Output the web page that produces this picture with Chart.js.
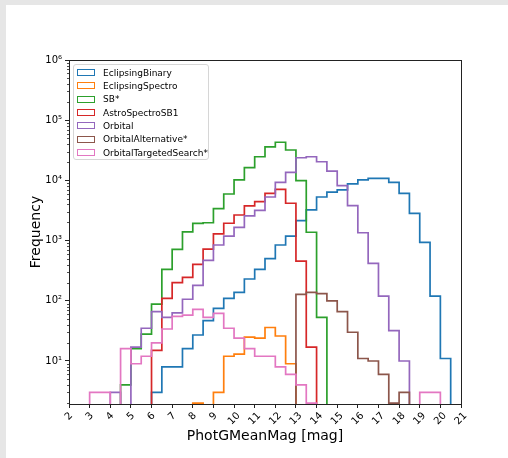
<!DOCTYPE html>
<html lang="en">
<head>
    <meta charset="UTF-8">
    <title>PhotGMeanMag histogram</title>
    <style>
        html, body { margin: 0; padding: 0; }
        body { width: 508px; height: 458px; background: #e6e6e6; position: relative; overflow: hidden; font-family: "DejaVu Sans", sans-serif; }
        #panel { position: absolute; left: 6px; top: 5px; right: 0; bottom: 0; background: #fff; }
        #myChart { position: absolute; left: 0; top: 0; }
        #legend { position: absolute; box-sizing: border-box; border: 1px solid #d6d6d6; border-radius: 3px; background: rgba(255,255,255,0.8); padding: 1px 0 0 3px; font-size: 9px; color: #000; }
        #legend .row { height: 13.33px; display: flex; align-items: center; white-space: nowrap; }
        #legend .box { box-sizing: border-box; width: 18px; height: 7px; border: 1.5px solid; margin-right: 8px; }
    </style>
</head>
<body>
    <div id="panel"></div>
    <canvas id="myChart" width="508" height="458"></canvas>
    <div id="legend"></div>
    <script src="https://cdn.jsdelivr.net/npm/chart.js"></script>
    <script>
        // histogram counts per 0.5 mag bin, each list starts at binStart[i]
        const binWidth = 0.5
        const seriesNames = ['EclipsingBinary', 'EclipsingSpectro', 'SB*', 'AstroSpectroSB1', 'Orbital', 'OrbitalAlternative*', 'OrbitalTargetedSearch*']
        const seriesColors = ['#1f77b4', '#ff7f0e', '#2ca02c', '#d62728', '#9467bd', '#8c564b', '#e377c2']
        const binStart = [6.0, 8.0, 4.5, 6.0, 4.0, 13.0, 3.0]

        const eclipsingBinary = [3, 8, 8, 16, 27, 47, 75, 110, 138, 230, 333, 500, 845, 1190, 2140, 3240, 5300, 6400, 6940, 8740, 10200, 10800, 10800, 9300, 6100, 2840, 935, 120, 11]
        const eclipsingSpectro = [2, 0, 3, 12, 13, 25, 24, 36, 26, 9]
        const sbStar = [4, 16, 28, 88, 333, 716, 1400, 1930, 1980, 3390, 5940, 10200, 16300, 24700, 36100, 43000, 32000, 9900, 1375, 53]
        const astroSpectroSB1 = [15, 110, 200, 245, 403, 720, 1290, 1940, 2660, 3760, 4430, 6110, 7110, 4170, 457, 17]
        const orbital = [3, 0, 17, 35, 66, 53, 63, 106, 180, 470, 845, 1190, 1660, 2570, 3170, 5300, 9300, 13600, 23800, 24700, 20400, 14300, 8170, 3800, 1350, 418, 120, 32, 10]
        const orbitalAlternative = [128, 138, 132, 100, 66, 30, 11, 10, 6, 2, 3]
        const orbitalTargetedSearch = [3, 3, 0, 16, 9, 12, 20, 34, 55, 58, 72, 53, 62, 35, 24, 16, 12, 12, 8, 6, 4, 2, 0, 0, 0, 0, 0, 0, 0, 0, 0, 0, 3, 3]

        const seriesCounts = [eclipsingBinary, eclipsingSpectro, sbStar, astroSpectroSB1, orbital, orbitalAlternative, orbitalTargetedSearch]

        const xTicks = [2, 3, 4, 5, 6, 7, 8, 9, 10, 11, 12, 13, 14, 15, 16, 17, 18, 19, 20, 21]
        const yTicks = [10, 100, 1000, 10000, 100000, 1000000]

        const FONT = '"DejaVu Sans", sans-serif'
        const SUP = ['⁰', '¹', '²', '³', '⁴', '⁵', '⁶', '⁷', '⁸', '⁹']
        const BELOW = 0.5   // empty bins sit under the log axis, so they get clipped

        // step outline: up from the floor, flat across each bin, back down at the end
        function stepPoints(start, counts) {
            const pts = [{x: start, y: BELOW}]
            counts.forEach((c, i) => pts.push({x: start + i * binWidth, y: c > 0 ? c : BELOW}))
            pts.push({x: start + counts.length * binWidth, y: BELOW})
            return pts
        }

        const datasets = seriesNames.map((name, i) => ({
            label: name,
            data: stepPoints(binStart[i], seriesCounts[i]),
            borderColor: seriesColors[i],
            backgroundColor: seriesColors[i],
            borderWidth: 1.7,
            borderJoinStyle: 'miter',
            stepped: 'before',
            pointRadius: 0,
            fill: false,
            order: seriesNames.length - i
        }))

        const frame = {
            id: 'frame',
            afterDatasetsDraw(chart) {
                const {ctx, chartArea: a} = chart
                ctx.save()
                ctx.strokeStyle = '#222'
                ctx.lineWidth = 1
                ctx.strokeRect(Math.round(a.left) + 0.5, Math.round(a.top) + 0.5, Math.round(a.right - a.left), Math.round(a.bottom - a.top))
                ctx.restore()
            },
            afterDraw(chart) {
                const {ctx, chartArea: a} = chart
                const ys = chart.scales.y, xs = chart.scales.x
                ctx.save()
                // log minor ticks
                ctx.strokeStyle = '#222'
                ctx.lineWidth = 0.8
                ctx.beginPath()
                for (let k = 0; k < 6; k++) {
                    for (let m = 2; m < 10; m++) {
                        const v = m * Math.pow(10, k)
                        if (v < ys.min || v > ys.max) continue
                        const py = Math.round(ys.getPixelForValue(v)) + 0.5
                        ctx.moveTo(a.left - 2, py)
                        ctx.lineTo(a.left, py)
                    }
                }
                ctx.stroke()
                // rotated x tick labels, centred under each tick
                ctx.font = '10px ' + FONT
                ctx.fillStyle = '#000'
                ctx.textAlign = 'center'
                ctx.textBaseline = 'middle'
                xTicks.forEach(v => {
                    const label = String(v)
                    const w = ctx.measureText(label).width
                    const px = xs.getPixelForValue(v)
                    const cy = a.bottom + 7 + (w + 9) * Math.SQRT1_2 / 2
                    ctx.save()
                    ctx.translate(px, cy)
                    ctx.rotate(-Math.PI / 4)
                    ctx.fillText(label, 0, 0)
                    ctx.restore()
                })
                ctx.restore()

                const lg = document.getElementById('legend')
                lg.style.left = (a.left + 4) + 'px'
                lg.style.top = (a.top + 4) + 'px'
            }
        }

        const axisGrid = {drawOnChartArea: false, drawTicks: true, tickLength: 4, color: '#222', lineWidth: 1}

        const chart = new Chart(document.getElementById('myChart'), {
            type: 'line',
            data: {datasets: datasets},
            options: {
                responsive: false,
                animation: false,
                devicePixelRatio: 1,
                layout: {padding: {left: 28, top: 60, right: 47, bottom: 13.5}},
                plugins: {legend: {display: false}, tooltip: {enabled: false}},
                scales: {
                    x: {
                        type: 'linear', min: 2, max: 21,
                        afterBuildTicks: s => { s.ticks = xTicks.map(v => ({value: v})) },
                        afterFit: s => { s.height = 40.5 },
                        ticks: {display: false},
                        grid: axisGrid,
                        border: {display: false},
                        title: {display: true, text: 'PhotGMeanMag [mag]', color: '#000', padding: 0, font: {family: FONT, size: 14}}
                    },
                    y: {
                        type: 'logarithmic', min: 1.93, max: 1000000,
                        afterBuildTicks: s => { s.ticks = yTicks.map(v => ({value: v})) },
                        afterFit: s => { s.width = 41 },
                        ticks: {
                            autoSkip: false, padding: 3, color: '#000', font: {family: FONT, size: 10},
                            callback: v => '10' + SUP[Math.round(Math.log10(v))]
                        },
                        grid: axisGrid,
                        border: {display: false},
                        title: {display: true, text: 'Frequency', color: '#000', padding: 0, font: {family: FONT, size: 14}}
                    }
                }
            },
            plugins: [frame]
        })

        // legend built from the same names and colours
        const lg = document.getElementById('legend')
        lg.style.width = '136px'
        lg.style.height = '96px'
        seriesNames.forEach((name, i) => {
            const row = document.createElement('div')
            row.className = 'row'
            const box = document.createElement('span')
            box.className = 'box'
            box.style.borderColor = seriesColors[i]
            const txt = document.createElement('span')
            txt.textContent = name
            row.appendChild(box)
            row.appendChild(txt)
            lg.appendChild(row)
        })
    </script>
</body>
</html>
